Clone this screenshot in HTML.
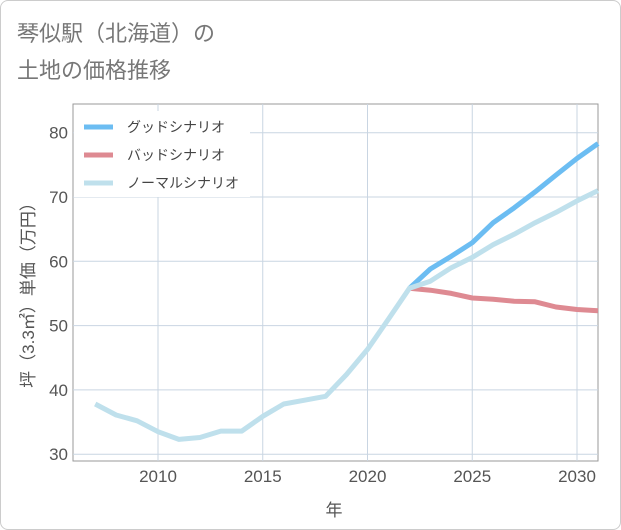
<!DOCTYPE html>
<html><head><meta charset="utf-8"><style>
body{margin:0;background:#fff;}
#wrap{position:relative;width:619px;height:528px;border:1px solid #ccc;border-radius:8px;overflow:hidden;font-family:"Liberation Sans","Noto Sans CJK JP",sans-serif;}
</style></head><body>
<div id="wrap">
<svg id="chart" width="621" height="530"></svg>
</div>
<script>
const years=[2007,2008,2009,2010,2011,2012,2013,2014,2015,2016,2017,2018,2019,2020,2021,2022,2023,2024,2025,2026,2027,2028,2029,2030,2031];
const normal=[37.8,36.1,35.2,33.5,32.3,32.6,33.6,33.6,35.9,37.8,38.4,39.0,42.4,46.3,51.0,55.8,56.9,59.0,60.6,62.6,64.2,66.0,67.6,69.4,71.0];
const goodYears=[2022,2023,2024,2025,2026,2027,2028,2029,2030,2031];
const good=[55.8,58.8,60.8,62.9,66.0,68.3,70.8,73.4,76.0,78.3];
const bad=[55.8,55.5,55.0,54.3,54.1,53.8,53.7,52.9,52.5,52.3];
const xTicks=[2010,2015,2020,2025,2030];
const yTicks=[30,40,50,60,70,80];
const legendLabels=["グッドシナリオ","バッドシナリオ","ノーマルシナリオ"];
const NS="http://www.w3.org/2000/svg";
const svg=document.getElementById('chart');
const L=72,R=597,T=103,B=460;
const x=v=>157+(v-2010)*20.95;
const y=v=>131.7+(80-v)*6.43;
function mk(tag,attrs,parent){const e=document.createElementNS(NS,tag);for(const k in attrs)e.setAttribute(k,attrs[k]);(parent||svg).appendChild(e);return e;}
function txt(s,attrs){const e=mk('text',attrs);e.textContent=s;return e;}
const t1=txt("琴似駅（北海道）の",{x:16,y:40,'font-size':22,fill:'#777'});

const t2=txt("土地の価格推移",{x:16,y:77,'font-size':22,fill:'#777'});

const bg=mk('rect',{x:L,y:T,width:R-L,height:B-T,fill:'#fff',stroke:'#999','stroke-width':1});

xTicks.forEach(v=>{const g=mk('line',{x1:x(v),x2:x(v),y1:T,y2:B,stroke:'#c9d5e2','stroke-width':1});

const l=txt(v,{x:x(v),y:481,'font-size':17,fill:'#555','text-anchor':'middle'});
});
yTicks.forEach(v=>{const g=mk('line',{x1:L,x2:R,y1:y(v),y2:y(v),stroke:'#c9d5e2','stroke-width':1});

const l=txt(v,{x:67,y:y(v)+6,'font-size':17,fill:'#555','text-anchor':'end'});
});
function line(xs,vs,color,name){const d=vs.map((v,i)=>(i?'L':'M')+x(xs[i]).toFixed(1)+','+y(v).toFixed(1)).join('');
const p=mk('path',{d:d,fill:'none',stroke:color,'stroke-width':5,'stroke-linejoin':'round'});
}
line(goodYears,good,'#6cbdf2','good-scenario-line');
line(goodYears,bad,'#de8a92','bad-scenario-line');
line(years,normal,'#bfe0ec','normal-scenario-line');
const lb=mk('rect',{x:L+1,y:110,width:176,height:86,fill:'#fff'});

const lc=['#6cbdf2','#de8a92','#bfe0ec'];
legendLabels.forEach((s,i)=>{const yy=126+i*28;
const m=mk('line',{x1:83,x2:112,y1:yy,y2:yy,stroke:lc[i],'stroke-width':5});

const t=txt(s,{x:126,y:yy+5,'font-size':14,fill:'#444'});
});
const yt=txt("坪（3.3㎡）単価（万円）",{x:0,y:0,'font-size':17,fill:'#555','text-anchor':'middle',transform:'translate(33,290) rotate(-90)'});

const xt=txt("年",{x:333,y:515,'font-size':17,fill:'#555','text-anchor':'middle'});

</script>
</body></html>
